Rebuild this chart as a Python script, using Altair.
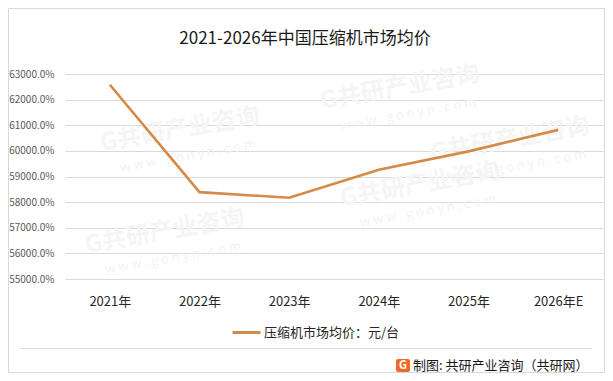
import altair as alt
import pandas as pd

# ---- data ----
years = ["2021年", "2022年", "2023年", "2024年", "2025年", "2026年E"]
prices = [62580, 58390, 58170, 59260, 59980, 60820]
series_name = "压缩机市场均价：元/台"
y_ticks = [55000, 56000, 57000, 58000, 59000, 60000, 61000, 62000, 63000]
title_text = "2021-2026年中国压缩机市场均价"
source_text = "制图: 共研产业咨询（共研网）"
wm_brand = "G共研产业咨询"
wm_site = "w w w . g o n y n . c o m"

FONT = "Noto Sans CJK SC"
LINE_COLOR = "#D68A48"

# plot origin in page coordinates: (65, 74); svg origin: (8, 8)
OX, OY = 65, 74

df = pd.DataFrame({"year": years, "price": prices, "series": [series_name] * len(years)})

# watermark positions (page coords), kept inside the frame
wm_x = [180, 400, 420, 165, 510]
wm_y = [130, 88, 185, 232, 140]
wm_df = pd.DataFrame({
    "x": [v - OX for v in wm_x],
    "y": [v - OY for v in wm_y],
    "t": [wm_brand] * len(wm_x),
})
wm_df2 = pd.DataFrame({
    "x": [v - OX + 8 for v in wm_x],
    "y": [v - OY + 26 for v in wm_y],
    "t": [wm_site] * len(wm_x),
})

wm1 = alt.Chart(wm_df).mark_text(
    font=FONT, fontSize=24, fontWeight="bold", color="#f5f5f5", angle=350
).encode(x=alt.X("x:Q", scale=None), y=alt.Y("y:Q", scale=None), text="t:N")
wm2 = alt.Chart(wm_df2).mark_text(
    font=FONT, fontSize=13, color="#f3f3f3", angle=350
).encode(x=alt.X("x:Q", scale=None), y=alt.Y("y:Q", scale=None), text="t:N")

line = alt.Chart(df).mark_line(strokeWidth=2.6).encode(
    x=alt.X(
        "year:N", sort=years,
        scale=alt.Scale(type="point", padding=0.5),
        axis=alt.Axis(title=None, labelAngle=0, domain=False, ticks=False, grid=False, zindex=1,
                      labelPadding=16, labelFontSize=13, labelColor="#262626", labelFont=FONT),
    ),
    y=alt.Y(
        "price:Q",
        scale=alt.Scale(domain=[55000, 63000], nice=False, zero=False),
        axis=alt.Axis(title=None, values=y_ticks, labelExpr="format(datum.value, '.1f') + '%'",
                      domain=False, ticks=False, labelPadding=11, gridColor="#d9d9d9",
                      labelFontSize=10, labelColor="#595959", labelFont=FONT),
    ),
    color=alt.Color(
        "series:N",
        scale=alt.Scale(range=[LINE_COLOR]),
        legend=alt.Legend(title=None, orient="none", legendX=166, legendY=243,
                          symbolType="stroke", symbolSize=784, symbolStrokeWidth=3,
                          labelOffset=2, labelFontSize=13, labelFont=FONT, labelColor="#262626"),
    ),
)

title = alt.Chart(pd.DataFrame({"t": [title_text]})).mark_text(
    font=FONT, fontSize=17, color="#1a1a1a", align="center", baseline="middle"
).encode(text="t:N", x=alt.value(305 - OX), y=alt.value(39 - OY))

footer_line = alt.Chart(pd.DataFrame({"a": [1]})).mark_rule(color="#d9d9d9", strokeWidth=1).encode(
    x=alt.value(20 - OX), x2=alt.value(592 - OX), y=alt.value(348.5 - OY)
)

logo = alt.Chart(pd.DataFrame({"a": [1]})).mark_rect(
    color="#EF6A22", cornerRadius=2
).encode(x=alt.value(396 - OX), x2=alt.value(410 - OX), y=alt.value(359 - OY), y2=alt.value(372 - OY))

logo_g = alt.Chart(pd.DataFrame({"t": ["G"]})).mark_text(
    font=FONT, fontSize=11, fontWeight="bold", color="white", align="center", baseline="middle"
).encode(text="t:N", x=alt.value(403 - OX), y=alt.value(366 - OY))

source = alt.Chart(pd.DataFrame({"t": [source_text]})).mark_text(
    font=FONT, fontSize=13, color="#1a1a1a", align="left", baseline="middle"
).encode(text="t:N", x=alt.value(413 - OX), y=alt.value(366 - OY))

border = alt.Chart(pd.DataFrame({"a": [1]})).mark_rect(
    fillOpacity=0, stroke="#d9d9d9", strokeWidth=1
).encode(x=alt.value(0.5 - 57), x2=alt.value(596.5 - 57), y=alt.value(0.5 - 66), y2=alt.value(364.5 - 66))

chart = alt.layer(wm1, wm2, line, title, footer_line, logo, logo_g, source, border).properties(
    width=538, height=205,
    autosize="none",
    padding={"left": 57, "top": 66, "right": 2, "bottom": 94},
    background="white",
).configure_view(strokeWidth=0)

chart.save("out.html", embed_options={"renderer": "svg", "actions": False})
